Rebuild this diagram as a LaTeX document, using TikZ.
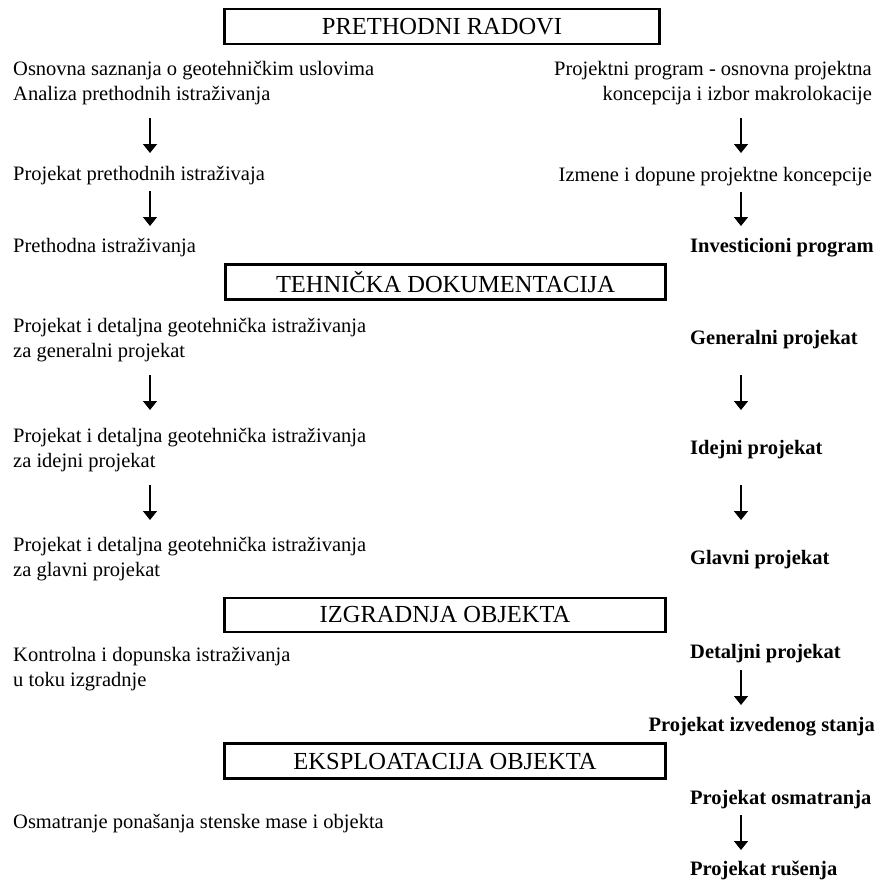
\documentclass[tikz,border=0pt]{standalone}
\usepackage{fontspec}
\setmainfont{Liberation Serif}
\usetikzlibrary{arrows.meta}
\begin{document}
\begin{tikzpicture}[x=1pt,y=-1pt,
  txt/.style={inner sep=0pt, font=\fontsize{20.5}{25}\selectfont},
  btxt/.style={inner sep=0pt, font=\fontsize{20.5}{25}\selectfont\bfseries},
  hbox/.style={draw, line width=2.6pt, inner sep=0pt, font=\fontsize{24.5}{29}\selectfont},
  arr/.style={line width=1.3pt, -{Triangle[width=14pt,length=9pt]}}]
\useasboundingbox (0,0) rectangle (877,881);

% section boxes
\node[hbox, minimum width=435pt, minimum height=35pt] (b1) at (442,26.5) {PRETHODNI RADOVI};
\node[hbox, minimum width=440pt, minimum height=35pt] (b2) at (445.5,282) {TEHNIČKA DOKUMENTACIJA};
\node[hbox, minimum width=441pt, minimum height=34pt] (b3) at (445,615) {IZGRADNJA OBJEKTA};
\node[hbox, minimum width=441pt, minimum height=35pt] (b4) at (445,761) {EKSPLOATACIJA OBJEKTA};

% left column
\node[txt, anchor=west, align=left] (l1) at (13,83) {Osnovna saznanja o geotehničkim uslovima\\Analiza prethodnih istraživanja};
\node[txt, anchor=west] (l2) at (13,176) {Projekat prethodnih istraživaja};
\node[txt, anchor=west] (l3) at (13,248) {Prethodna istraživanja};
\node[txt, anchor=west, align=left] (l4) at (13,340.5) {Projekat i detaljna geotehnička istraživanja\\za generalni projekat};
\node[txt, anchor=west, align=left] (l5) at (13,450.5) {Projekat i detaljna geotehnička istraživanja\\za idejni projekat};
\node[txt, anchor=west, align=left] (l6) at (13,559) {Projekat i detaljna geotehnička istraživanja\\za glavni projekat};
\node[txt, anchor=west, align=left] (l7) at (13,669.5) {Kontrolna i dopunska istraživanja\\u toku izgradnje};
\node[txt, anchor=west] (l8) at (13,824) {Osmatranje ponašanja stenske mase i objekta};

% right column
\node[txt, anchor=east, align=right] (r1) at (872,83) {Projektni program - osnovna projektna\\koncepcija i izbor makrolokacije};
\node[txt, anchor=east] (r2) at (872,177) {Izmene i dopune projektne koncepcije};
\node[btxt, anchor=west] (r3) at (690,248) {Investicioni program};
\node[btxt, anchor=west] (r4) at (690,340) {Generalni projekat};
\node[btxt, anchor=west] (r5) at (690,450) {Idejni projekat};
\node[btxt, anchor=west] (r6) at (690,560) {Glavni projekat};
\node[btxt, anchor=west] (r7) at (690,654) {Detaljni projekat};
\node[btxt, anchor=east] (r8) at (875,727) {Projekat izvedenog stanja};
\node[btxt, anchor=west] (r9) at (690,800) {Projekat osmatranja};
\node[btxt, anchor=west] (r10) at (690,870) {Projekat rušenja};

% arrow end points
\coordinate (la1) at (150,118); \coordinate (la1e) at (150,153);
\coordinate (la2) at (150,191); \coordinate (la2e) at (150,226);
\coordinate (la3) at (150,375); \coordinate (la3e) at (150,410);
\coordinate (la4) at (150,485); \coordinate (la4e) at (150,520);
\coordinate (ra1) at (741,118); \coordinate (ra1e) at (741,153);
\coordinate (ra2) at (741,192); \coordinate (ra2e) at (741,226);
\coordinate (ra3) at (741,375); \coordinate (ra3e) at (741,410);
\coordinate (ra4) at (741,485); \coordinate (ra4e) at (741,520);
\coordinate (ra5) at (741,670); \coordinate (ra5e) at (741,705);
\coordinate (ra6) at (741,815); \coordinate (ra6e) at (741,850);

\foreach \a in {la1,la2,la3,la4,ra1,ra2,ra3,ra4,ra5,ra6}
  \draw[arr] (\a) -- (\a e);
\end{tikzpicture}
\end{document}
